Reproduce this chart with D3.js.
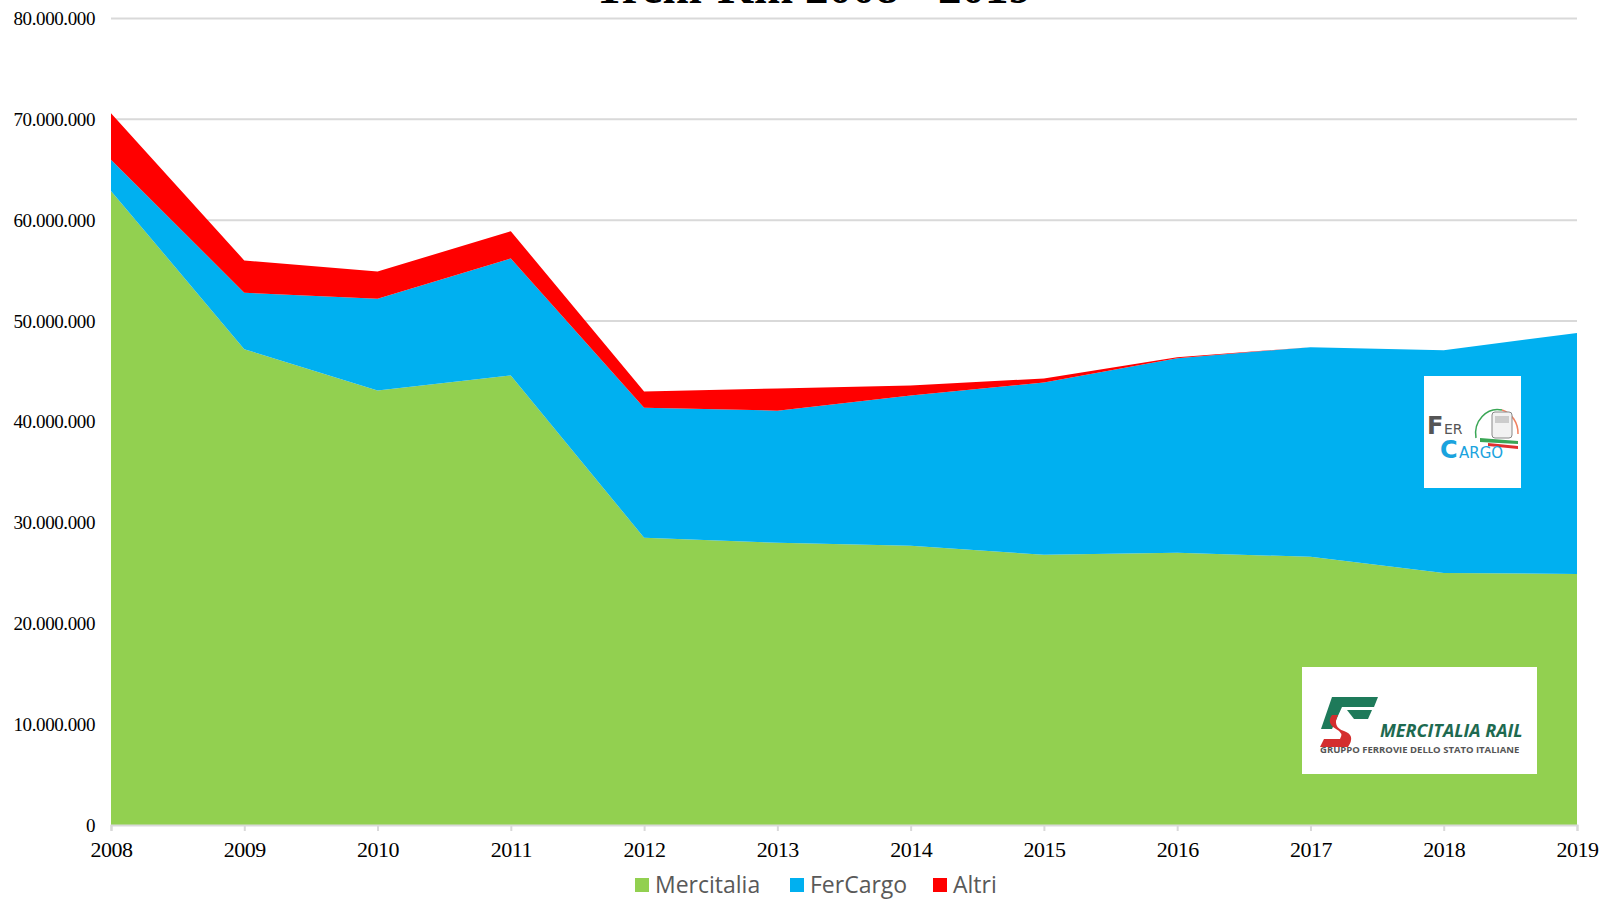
<!DOCTYPE html>
<html>
<head>
<meta charset="utf-8">
<script src="https://cdn.jsdelivr.net/npm/d3@7"></script>
<style>
  body { margin: 0; background: #fff; }
  svg { display: block; }
</style>
</head>
<body>
<div class="canvas"></div>
<script>
// dati treni-km per operatore
const years = [2008, 2009, 2010, 2011, 2012, 2013, 2014, 2015, 2016, 2017, 2018, 2019];
const mercitalia = [62900000, 47200000, 43100000, 44600000, 28500000, 28000000, 27700000, 26800000, 27000000, 26600000, 25000000, 24900000];
const fercargo = [3100000, 5600000, 9100000, 11600000, 12900000, 13100000, 14900000, 17100000, 19300000, 20800000, 22100000, 23900000];
const altri = [4600000, 3200000, 2700000, 2700000, 1600000, 2200000, 1000000, 400000, 100000, 0, 0, 0];
const yTicks = [0, 10000000, 20000000, 30000000, 40000000, 50000000, 60000000, 70000000, 80000000];
const seriesNames = ['Mercitalia', 'FerCargo', 'Altri'];
const colors = ['#92d050', '#00b0f0', '#ff0000'];

const width = 1613, height = 901;
const plotLeft = 111, plotRight = 1577, plotTop = 18.5, plotBottom = 825;

const svg = d3.select('.canvas').append('svg')
    .attr('width', width)
    .attr('height', height);

const rows = years.map((y, i) => ({ year: y, Mercitalia: mercitalia[i], FerCargo: fercargo[i], Altri: altri[i] }));
const stacked = d3.stack().keys(seriesNames)(rows);

const x = d3.scaleLinear().domain([2008, 2019]).range([plotLeft, plotRight]);
const y = d3.scaleLinear().domain([0, 80000000]).range([plotBottom, plotTop]);

const fmt = v => v === 0 ? '0' : d3.format(',')(v).replace(/,/g, '.');

// griglia
svg.append('g')
  .selectAll('line')
  .data(yTicks.filter(t => t > 0))
  .join('line')
    .attr('x1', plotLeft)
    .attr('x2', plotRight)
    .attr('y1', d => y(d))
    .attr('y2', d => y(d))
    .attr('stroke', '#d9d9d9')
    .attr('stroke-width', 2);

// aree
const area = d3.area()
    .x(d => x(d.data.year))
    .y0(d => y(d[0]))
    .y1(d => y(d[1]));

svg.append('g')
  .selectAll('path')
  .data(stacked)
  .join('path')
    .attr('d', area)
    .attr('fill', (d, i) => colors[i]);

// asse y
const yAxis = svg.append('g')
    .attr('transform', `translate(${plotLeft},0)`)
    .call(d3.axisLeft(y).tickValues(yTicks).tickFormat(fmt).tickSize(0).tickPadding(16));
yAxis.select('.domain').remove();
yAxis.selectAll('text')
    .style('font-family', '"Liberation Serif", serif')
    .style('font-size', '19px')
    .attr('fill', '#000')
    .attr('letter-spacing', '-0.4');

// asse x
const xAxis = svg.append('g')
    .attr('transform', `translate(0,${plotBottom})`)
    .call(d3.axisBottom(x).tickValues(years).tickFormat(d3.format('d')).tickSize(6).tickPadding(10));
xAxis.select('.domain').attr('stroke', '#d9d9d9').attr('stroke-width', 2);
xAxis.selectAll('line').attr('stroke', '#d9d9d9').attr('stroke-width', 2);
xAxis.selectAll('text')
    .style('font-family', '"Liberation Serif", serif')
    .style('font-size', '22px')
    .attr('fill', '#000')
    .attr('letter-spacing', '-0.5');

// titolo (tagliato in alto come nell'originale)
svg.append('text')
    .attr('x', 813)
    .attr('y', 3)
    .attr('text-anchor', 'middle')
    .style('font-family', '"Liberation Serif", serif')
    .style('font-size', '47px')
    .style('font-weight', 'bold')
    .text('Treni-Km 2008 - 2019');

// legenda
const legendX = [635, 790, 933];
const legend = svg.append('g');
seriesNames.forEach((n, i) => {
  legend.append('rect')
      .attr('x', legendX[i])
      .attr('y', 878)
      .attr('width', 14)
      .attr('height', 14)
      .attr('fill', colors[i]);
  legend.append('text')
      .attr('x', legendX[i] + 20)
      .attr('y', 893)
      .style('font-family', '"Open Sans", sans-serif')
      .style('font-size', '23px')
      .attr('fill', '#595959')
      .text(n);
});

// logo FerCargo
const fc = svg.append('g').attr('transform', 'translate(1424,376)');
fc.append('rect').attr('width', 97).attr('height', 112).attr('fill', '#fff');
fc.append('path')
    .attr('d', 'M52,62 A22,24 0 0 1 78,34')
    .attr('fill', 'none').attr('stroke', '#3aa655').attr('stroke-width', 1.5);
fc.append('path')
    .attr('d', 'M78,34 A22,24 0 0 1 94,58')
    .attr('fill', 'none').attr('stroke', '#f08060').attr('stroke-width', 1.5);
fc.append('rect').attr('x', 68).attr('y', 36).attr('width', 20).attr('height', 26).attr('rx', 3)
    .attr('fill', '#f2f2f2').attr('stroke', '#888');
fc.append('rect').attr('x', 71).attr('y', 40).attr('width', 14).attr('height', 7).attr('fill', '#ccc');
fc.append('path').attr('d', 'M56,62 L94,65 L94,68 L56,66 Z').attr('fill', '#3aa655');
fc.append('path').attr('d', 'M64,67 L94,70 L94,73 L64,70 Z').attr('fill', '#e03030');
fc.append('text').attr('x', 3).attr('y', 58)
    .style('font-family', '"DejaVu Sans", sans-serif').style('font-size', '24px')
    .style('font-weight', 'bold')
    .attr('fill', '#555').text('F');
fc.append('text').attr('x', 20).attr('y', 58)
    .style('font-family', '"DejaVu Sans", sans-serif').style('font-size', '14px')
    .attr('fill', '#555').text('ER');
fc.append('text').attr('x', 16).attr('y', 82)
    .style('font-family', '"DejaVu Sans", sans-serif').style('font-size', '24px')
    .style('font-weight', 'bold')
    .attr('fill', '#1aa3de').text('C');
fc.append('text').attr('x', 35).attr('y', 82)
    .style('font-family', '"DejaVu Sans", sans-serif').style('font-size', '15px')
    .attr('fill', '#1aa3de').text('ARGO');

// logo Mercitalia Rail
const mr = svg.append('g').attr('transform', 'translate(1302,667)');
mr.append('rect').attr('width', 235).attr('height', 107).attr('fill', '#fff');
mr.append('path').attr('d', 'M30,30 L76,30 L72,40 L40,40 L30,62 L19,62 Z').attr('fill', '#1e7a5a');
mr.append('path').attr('d', 'M45,43 L70,43 L66,52 L52,52 Z').attr('fill', '#1e7a5a');
mr.append('path').attr('d', 'M36,48 Q30,60 42,64 Q54,68 46,80 L18,80 L22,72 L38,72 Q42,66 34,62 Q24,56 30,48 Z').attr('fill', '#d42e2e');
mr.append('text').attr('x', 78).attr('y', 70)
    .style('font-family', '"Open Sans", sans-serif').style('font-size', '18px')
    .style('font-style', 'italic').style('font-weight', 'bold')
    .attr('fill', '#1e6a50').text('MERCITALIA RAIL');
mr.append('text').attr('x', 18).attr('y', 86)
    .style('font-family', '"Open Sans", sans-serif').style('font-size', '9.5px')
    .style('font-weight', 'bold')
    .attr('fill', '#555').text('GRUPPO FERROVIE DELLO STATO ITALIANE');
</script>
</body>
</html>
